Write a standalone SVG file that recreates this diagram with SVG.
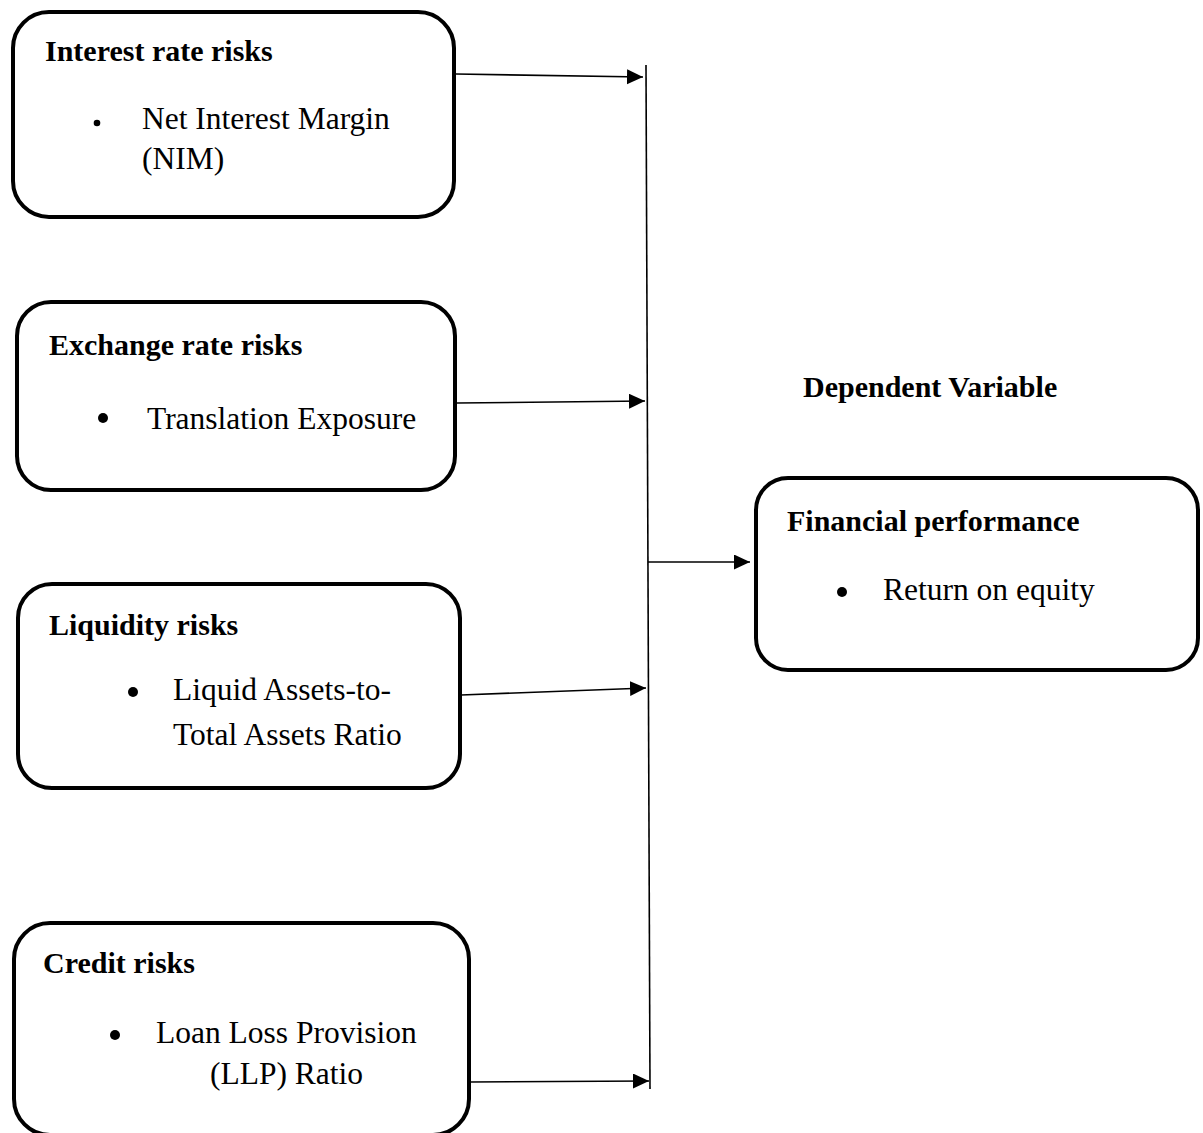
<svg xmlns="http://www.w3.org/2000/svg" width="1203" height="1133" viewBox="0 0 1203 1133">
<style>
.box{fill:#fff;stroke:#000;stroke-width:4}
.t{font-family:"Liberation Serif","Times New Roman",serif;fill:#000}
.b{font-weight:bold;font-size:30px}
.r{font-size:31.5px}
.c{stroke:#000;stroke-width:1.6;fill:none}
</style>
<defs>
<marker id="ah" markerUnits="userSpaceOnUse" markerWidth="17" markerHeight="16" refX="16" refY="7.5" orient="auto">
<path d="M0,0 L16,7.5 L0,15 z" fill="#000"/>
</marker>
</defs>
<rect width="1203" height="1133" fill="#fff"/>
<g id="connectors">
<line class="c" x1="646" y1="65" x2="650" y2="1089"/>
<line class="c" x1="456" y1="74" x2="643" y2="77" marker-end="url(#ah)"/>
<line class="c" x1="457" y1="403" x2="645" y2="401" marker-end="url(#ah)"/>
<line class="c" x1="461" y1="695" x2="646" y2="688" marker-end="url(#ah)"/>
<line class="c" x1="470" y1="1082" x2="649" y2="1081" marker-end="url(#ah)"/>
<line class="c" x1="648" y1="562" x2="750" y2="562" marker-end="url(#ah)"/>
</g>
<g id="interest">
<rect class="box" x="13" y="12" width="441" height="205" rx="36"/>
<text class="t b" x="45" y="61">Interest rate risks</text>
<circle cx="97" cy="123" r="3.3"/>
<text class="t r" x="142" y="129">Net Interest Margin</text>
<text class="t r" x="142" y="169">(NIM)</text>
</g>
<g id="exchange">
<rect class="box" x="17" y="302" width="438" height="188" rx="34"/>
<text class="t b" x="49" y="355">Exchange rate risks</text>
<circle cx="103" cy="418" r="5"/>
<text class="t r" x="147" y="429">Translation Exposure</text>
</g>
<g id="liquidity">
<rect class="box" x="18" y="584" width="442" height="204" rx="34"/>
<text class="t b" x="49" y="635">Liquidity risks</text>
<circle cx="133" cy="692" r="5"/>
<text class="t r" x="173" y="700">Liquid Assets-to-</text>
<text class="t r" x="173" y="745">Total Assets Ratio</text>
</g>
<g id="credit">
<rect class="box" x="14" y="923" width="455" height="212" rx="36"/>
<text class="t b" x="43" y="973">Credit risks</text>
<circle cx="115" cy="1035" r="5"/>
<text class="t r" x="156" y="1043">Loan Loss Provision</text>
<text class="t r" x="210" y="1084">(LLP) Ratio</text>
</g>
<text id="dependent-label" class="t b" x="803" y="397">Dependent Variable</text>
<g id="financial">
<rect class="box" x="756" y="478" width="442" height="192" rx="32"/>
<text class="t b" x="787" y="531">Financial performance</text>
<circle cx="842" cy="592" r="5"/>
<text class="t r" x="883" y="600">Return on equity</text>
</g>
</svg>
